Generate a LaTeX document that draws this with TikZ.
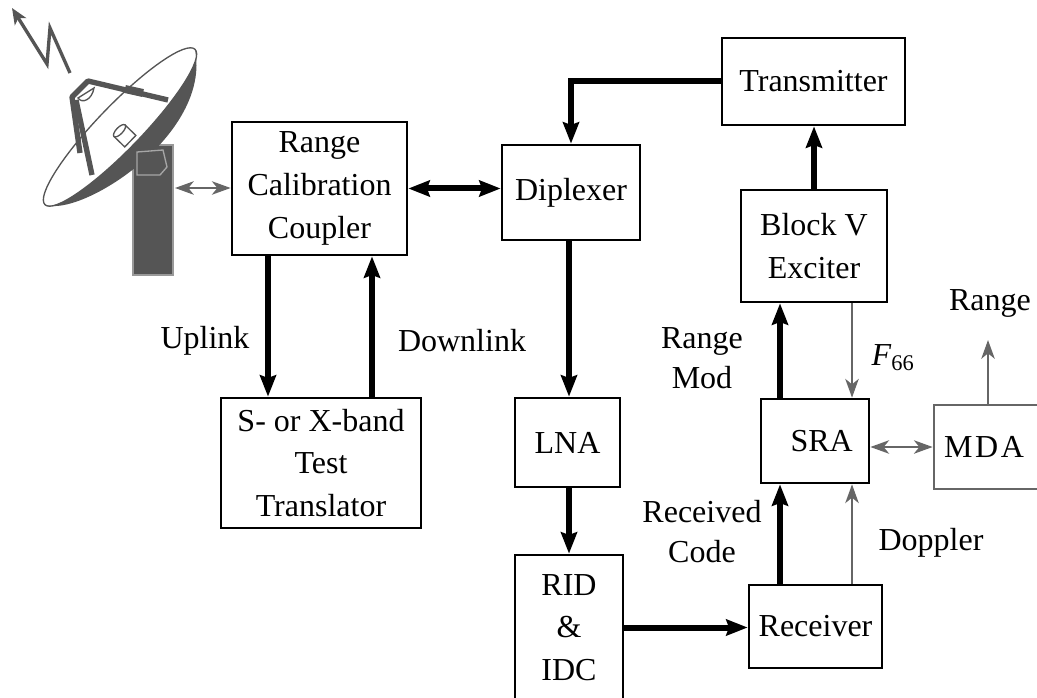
\documentclass[tikz,border=0pt]{standalone}
\usepackage{fontspec}
\setmainfont{Liberation Serif}
\usetikzlibrary{arrows.meta}
\definecolor{dishgrey}{HTML}{555555}
\definecolor{linegrey}{HTML}{666666}

\begin{document}
\begin{tikzpicture}[x=0.75pt,y=-0.75pt,
  box/.style={draw=black, line width=2pt, fill=white, align=center, inner sep=0pt,
    font=\fontsize{24}{32}\selectfont},
  lbl/.style={align=center, inner sep=0pt, font=\fontsize{24}{30}\selectfont},
  bigarrow/.style={line width=4.5pt, -{Stealth[length=16pt,width=12pt,inset=2pt]}},
  bigboth/.style={line width=4.5pt, {Stealth[length=16pt,width=12pt,inset=2pt]}-{Stealth[length=16pt,width=12pt,inset=2pt]}},
  greyarrow/.style={draw=linegrey, line width=2pt, -{Stealth[length=14pt,width=10pt,inset=4pt]}, color=linegrey},
  greyboth/.style={draw=linegrey, line width=2pt, {Stealth[length=14pt,width=10pt,inset=4pt]}-{Stealth[length=14pt,width=10pt,inset=4pt]}, color=linegrey}
]
\useasboundingbox (0,0) rectangle (1037,698);

% ---- antenna ----
% pedestal
\filldraw[fill=dishgrey, draw=gray!80, line width=1pt] (133,145) rectangle (173,275);
% dish aperture (ellipse tilted by 46 degrees)
\fill[white] (45,204.7) .. controls (53.74,213.15) and (94.35,185.2) .. (135.8,142.3)
  .. controls (177.25,99.4) and (203.74,57.75) .. (195,49.3)
  .. controls (186.26,40.85) and (145.65,68.8) .. (104.2,111.7)
  .. controls (62.75,154.6) and (36.26,196.25) .. (45,204.7) -- cycle;
% back of the dish
\fill[dishgrey] (45,204.7) .. controls (80,218) and (212,135) .. (195,49.3)
  .. controls (203.74,57.75) and (177.25,99.4) .. (135.8,142.3)
  .. controls (94.35,185.2) and (53.74,213.15) .. (45,204.7) -- cycle;
% rim
\draw[dishgrey, line width=1pt] (45,204.7) .. controls (53.74,213.15) and (94.35,185.2) .. (135.8,142.3)
  .. controls (177.25,99.4) and (203.74,57.75) .. (195,49.3)
  .. controls (186.26,40.85) and (145.65,68.8) .. (104.2,111.7)
  .. controls (62.75,154.6) and (36.26,196.25) .. (45,204.7) -- cycle;
% feed horn
\begin{scope}[rotate around={46:(126,137)}]
  \filldraw[fill=white, draw=dishgrey, line width=1pt] (118,128) rectangle (134,143);
  \filldraw[fill=white, draw=dishgrey, line width=1pt] (126,128) ellipse [x radius=6pt, y radius=2.5pt];
\end{scope}
% mount outline
\draw[gray!70, line width=1pt] (137,152) -- (163,150) -- (167,167) -- (160,175) -- (137,175) -- cycle;
% feed support struts and subreflector
\draw[dishgrey, line width=4pt, line join=round] (80,153) -- (72,97) -- (88,81) -- (168,100);
\draw[dishgrey, line width=4pt] (76,100) -- (92,175);
\draw[dishgrey, line width=6pt] (125,89) -- (143,93);
\filldraw[fill=white, draw=dishgrey, line width=1pt] (78,98) .. controls (82,104) and (92,100) .. (94,88) -- cycle;
% signal bolt
\draw[dishgrey, line width=2.5pt, line join=miter, -{Stealth[length=12pt,width=10pt,inset=3pt]}]
  (70,73) -- (50,28) -- (47,64) -- (12,8);
\coordinate (ant) at (175,188);

% ---- blocks ----
\node[box, minimum width=183*.75pt, minimum height=87*.75pt] (tx) at (813.5,81.5) {Transmitter};
\node[box, minimum width=175*.75pt, minimum height=133*.75pt] (rcc) at (319.5,188.5) {Range\\Calibration\\Coupler};
\node[box, minimum width=138*.75pt, minimum height=95*.75pt] (dip) at (571,192.5) {Diplexer};
\node[box, minimum width=146*.75pt, minimum height=112*.75pt] (exc) at (814,246) {Block V\\Exciter};
\node[box, minimum width=200*.75pt, minimum height=130*.75pt] (tt) at (321,463) {S- or X-band\\Test\\Translator};
\node[box, minimum width=105*.75pt, minimum height=89*.75pt] (lna) at (567.5,442.5) {LNA};
\node[box, minimum width=108*.75pt, minimum height=84*.75pt] (sra) at (815,441) {\hspace*{10pt}SRA};
\node[box, draw=linegrey, minimum width=116*.75pt, minimum height=84*.75pt] (mda) at (992,447) {M\kern2pt D\kern2pt A\hspace*{12pt}};
\node[box, minimum width=108*.75pt, minimum height=145*.75pt] (rid) at (569,627.5) {RID\\\&\\IDC};
\node[box, minimum width=133*.75pt, minimum height=83*.75pt] (rcv) at (815.5,626.5) {Receiver};
\coordinate (rng) at (988,340);

% ---- connectors ----
\draw[bigarrow] (tx.west) -| (dip.north);
\draw[bigboth] (rcc.east) -- (rcc.east -| dip.west);
\draw[greyboth] (ant) -- (ant -| rcc.west);
\draw[bigarrow] (268,0 |- rcc.south) -- (268,0 |- tt.north);
\draw[bigarrow] (372,0 |- tt.north) -- (372,0 |- rcc.south);
\draw[bigarrow] (569,0 |- dip.south) -- (569,0 |- lna.north);
\draw[bigarrow] (569,0 |- lna.south) -- (569,0 |- rid.north);
\draw[bigarrow] (rid.east) -- (rid.east -| rcv.west);
\draw[bigarrow] (780,0 |- rcv.north) -- (780,0 |- sra.south);
\draw[greyarrow] (852,0 |- rcv.north) -- (852,0 |- sra.south);
\draw[bigarrow] (780,0 |- sra.north) -- (780,0 |- exc.south);
\draw[greyarrow] (852,0 |- exc.south) -- (852,0 |- sra.north);
\draw[bigarrow] (exc.north) -- (exc.north |- tx.south);
\draw[greyboth] (sra.east |- mda.west) -- (mda.west);
\draw[greyarrow] (rng |- mda.north) -- (rng);

% ---- labels ----
\node[lbl] (lup) at (205,341) {Uplink};
\node[lbl] (ldown) at (462,341) {Downlink};
\node[lbl] (lmod) at (702,358) {Range\\Mod};
\node[lbl] (lcode) at (702,532) {Received\\Code};
\node[lbl] (lf) at (893,358) {\textit{F}\textsubscript{66}};
\node[lbl] (lrange) at (990,303) {Range};
\node[lbl] (ldop) at (931,543) {Doppler};
\end{tikzpicture}
\end{document}
